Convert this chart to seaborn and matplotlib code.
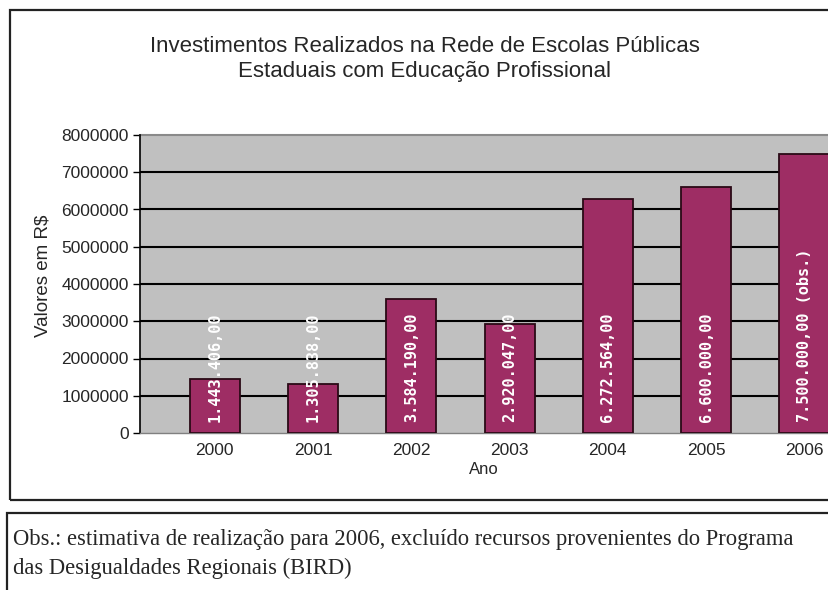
import matplotlib
matplotlib.use("Agg")
import matplotlib.pyplot as plt
from matplotlib.patches import Rectangle
import seaborn as sns

# Investment figures per year (R$)
anos = ["2000", "2001", "2002", "2003", "2004", "2005", "2006"]
valores = [1443406.00, 1305838.00, 3584190.00, 2920047.00, 6272564.00, 6600000.00, 7500000.00]
sufixos = ["", "", "", "", "", "", " (obs.)"]
yticks = [0, 1000000, 2000000, 3000000, 4000000, 5000000, 6000000, 7000000, 8000000]

titulo = "Investimentos Realizados na Rede de Escolas Públicas\nEstaduais com Educação Profissional"
rotulo_y = "Valores em R$"
rotulo_x = "Ano"
observacao = ("Obs.: estimativa de realização para 2006, excluído recursos provenientes do Programa\n"
              "das Desigualdades Regionais (BIRD)")

sns.set_theme(style="white")
plt.rcParams["font.family"] = ["Liberation Sans", "DejaVu Sans"]

W, H = 829, 590
fig = plt.figure(figsize=(W / 100, H / 100), dpi=100)
fig.patch.set_facecolor("white")

def fx(px):
    return px / W

def fy(py):
    return 1 - py / H

# chart frame and note frame
fig.patches.append(Rectangle((fx(10), fy(500)), fx(830), (500 - 10) / H, transform=fig.transFigure,
                             fill=False, edgecolor="#222222", linewidth=1.6))
fig.patches.append(Rectangle((fx(7), fy(600)), fx(830), (600 - 513) / H, transform=fig.transFigure,
                             fill=False, edgecolor="#222222", linewidth=1.6))

ax = fig.add_axes([fx(140), fy(433), fx(829) - fx(140), (433 - 135) / H])
ax.set_facecolor("#c0c0c0")

sns.barplot(x=anos, y=valores, ax=ax, color="#9e2d64", saturation=1, width=0.51,
            edgecolor="#2a0a16", linewidth=1.3, zorder=3)

ax.set_xlim(-0.76, 6.25)
ax.set_ylim(0, 8000000)
ax.set_yticks(yticks)
ax.set_yticklabels([str(t) for t in yticks], fontsize=12.5)
ax.set_xticks(range(len(anos)))
ax.set_xticklabels(anos, fontsize=12.5)
for t in yticks[1:-1]:
    ax.axhline(t, color="black", linewidth=1.5, zorder=1)

for side in ["top", "right"]:
    ax.spines[side].set_visible(False)
ax.spines["left"].set_color("black")
ax.spines["left"].set_linewidth(1.2)
ax.spines["bottom"].set_color("#808080")
ax.spines["bottom"].set_linewidth(1.0)
ax.axhline(8000000, color="#8a8a8a", linewidth=1.5, zorder=1, clip_on=False)
ax.tick_params(axis="y", which="major", left=True, length=5, width=1, color="black", pad=3)
ax.tick_params(axis="x", which="major", bottom=False, pad=1)
ax.set_xlabel("")
ax.set_ylabel("")

for i, (v, s) in enumerate(zip(valores, sufixos)):
    txt = f"{v:,.2f}".replace(",", "X").replace(".", ",").replace("X", ".") + s
    ax.text(i, 290000, txt, rotation=90, ha="center", va="bottom", color="white",
            fontfamily="DejaVu Sans Mono", fontweight="bold", fontsize=11, zorder=5)

fig.text(fx(484), fy(469), rotulo_x, ha="center", va="center", fontsize=12)
fig.text(fx(43), fy(276), rotulo_y, ha="center", va="center", rotation=90, fontsize=13.5)
fig.text(fx(425), fy(59), titulo, ha="center", va="center", fontsize=16, linespacing=1.25)
fig.text(fx(13), fy(554), observacao, ha="left", va="center", fontsize=16.3,
         fontfamily="Liberation Serif", linespacing=1.45)

fig.savefig("out.png", dpi=100)
